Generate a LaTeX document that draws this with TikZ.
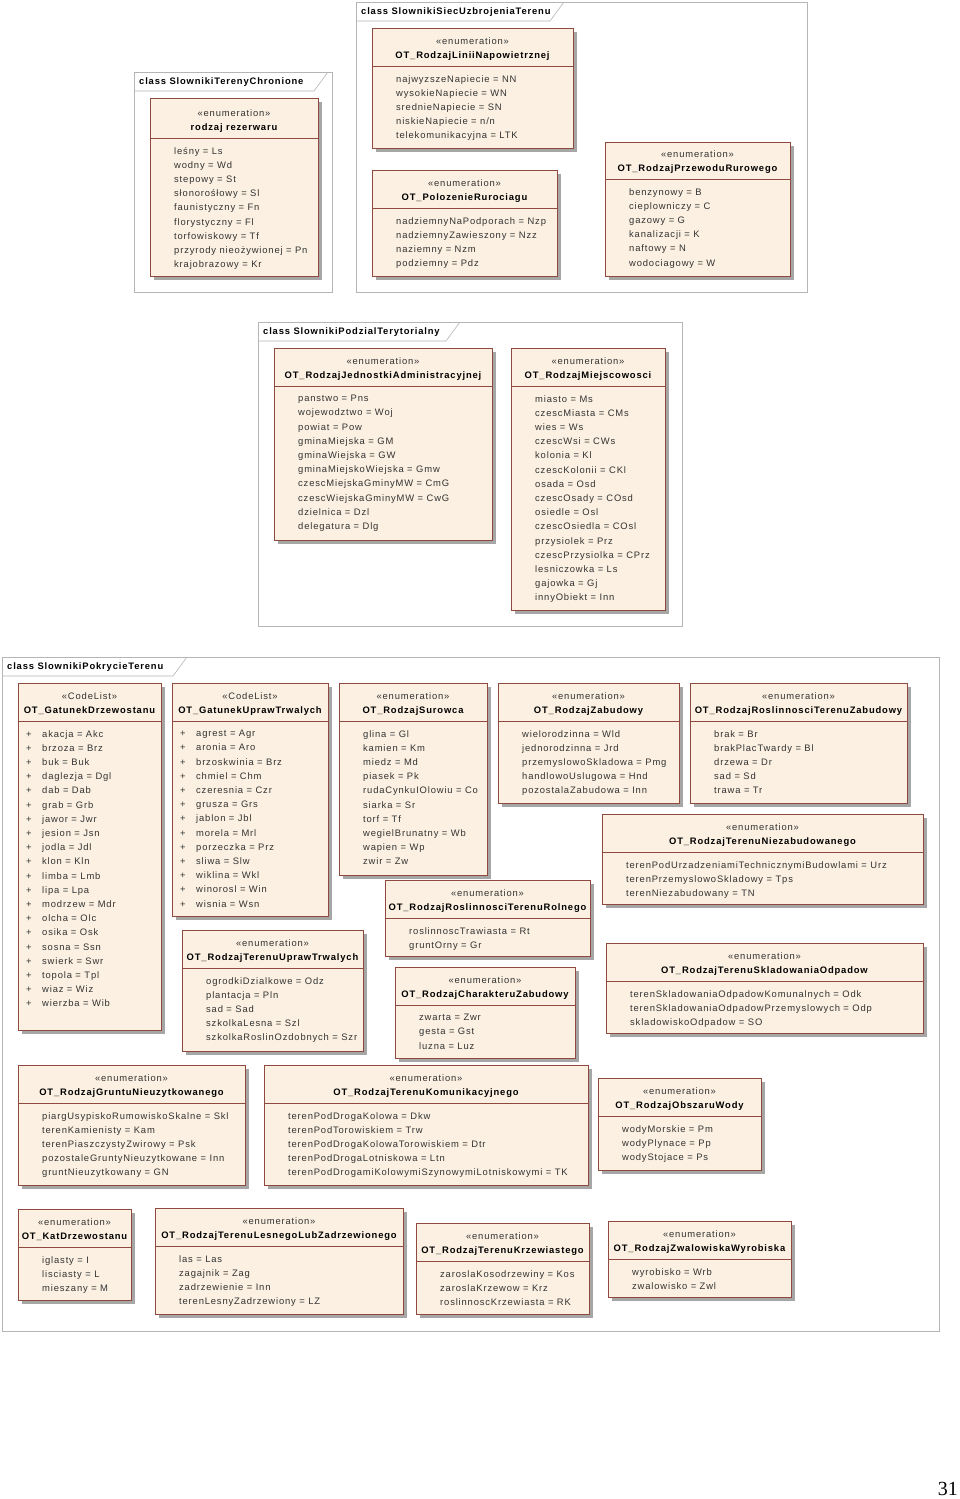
\documentclass[tikz,border=0pt]{standalone}
\usepackage{fontspec}
\setmainfont{Liberation Sans}
\newfontfamily\wide[LetterSpace=9]{Liberation Sans}
\newfontfamily\pagefont{Liberation Serif}
\definecolor{boxfill}{HTML}{FBF0E1}
\definecolor{boxline}{HTML}{8E4A3E}
\definecolor{txt}{HTML}{333333}
\definecolor{frame}{HTML}{B5B5B5}
\tikzset{
  boxshape/.style={draw=boxline,fill=boxfill,line width=0.8pt},
  shadowshape/.style={fill=black!35,draw=none},
  itemtxt/.style={anchor=north west,inner sep=0pt,align=left,text=txt,font=\wide\fontsize{9.4}{14.2}\selectfont},
  headtxt/.style={inner sep=0pt,text=txt,font=\wide\fontsize{9.4}{10}\selectfont},
  titletxt/.style={inner sep=0pt,text=black,font=\wide\fontsize{9.4}{10}\selectfont\bfseries},
  framebox/.style={draw=frame,line width=0.6pt},
  tablabel/.style={anchor=west,inner sep=0pt,font=\wide\fontsize{9.4}{10}\selectfont\bfseries}
}
% id, x1,y1,x2,y2, sep, stereotype, title, items
\newcommand\ebox[9]{%
  \fill[shadowshape] (#2+4,#3+4) rectangle (#4+4,#5+4);
  \node[boxshape,minimum width=#4pt-#2pt,minimum height=#5pt-#3pt,anchor=north west,inner sep=0pt] (#1) at (#2,#3) {};
  \draw[boxline,line width=0.6pt] (#2,#6) -- (#4,#6);
  \node[headtxt] (#1s) at ({(#2+#4)/2},#6-25) {«#7»};
  \node[titletxt] (#1t) at ({(#2+#4)/2},#6-10) {#8};
  \node[itemtxt] (#1i) at (#2+24,#6+9) {#9};
}
\newcommand\cbox[9]{%
  \fill[shadowshape] (#2+4,#3+4) rectangle (#4+4,#5+4);
  \node[boxshape,minimum width=#4pt-#2pt,minimum height=#5pt-#3pt,anchor=north west,inner sep=0pt] (#1) at (#2,#3) {};
  \draw[boxline,line width=0.6pt] (#2,#6) -- (#4,#6);
  \node[headtxt] (#1s) at ({(#2+#4)/2},#6-25) {«#7»};
  \node[titletxt] (#1t) at ({(#2+#4)/2},#6-10) {#8};
  \node[itemtxt] (#1i) at (#2+8,#6+9) {#9};
}
\newcommand\pl[1]{\makebox[16pt][l]{+}#1}
% id, x1,y1,x2,y2, tabx, label
\newcommand\pkg[7]{%
  \draw[framebox] (#2,#3) rectangle (#4,#5);
  \draw[framebox] (#2,#3+19) -- (#6,#3+19) -- (#6+14,#3);
  \node[tablabel] (#1) at (#2+5,#3+10) {#7};
}
\begin{document}
\begin{tikzpicture}[x=1pt,y=-1pt]
\useasboundingbox (0,0) rectangle (960,1499);
\fill[white] (0,0) rectangle (960,1499);

\pkg{p1}{134}{72}{332}{292}{314}{class SlownikiTerenyChronione}
\ebox{A}{150}{98}{318}{276}{138}{enumeration}{rodzaj rezerwaru}{leśny = Ls\\wodny = Wd\\stepowy = St\\słonorośłowy = Sl\\faunistyczny = Fn\\florystyczny = Fl\\torfowiskowy = Tf\\przyrody nieożywionej = Pn\\krajobrazowy = Kr}

\pkg{p2}{356}{2}{807}{292}{550}{class SlownikiSiecUzbrojeniaTerenu}
\ebox{B}{372}{28}{573}{148}{66}{enumeration}{OT\_RodzajLiniiNapowietrznej}{najwyzszeNapiecie = NN\\wysokieNapiecie = WN\\srednieNapiecie = SN\\niskieNapiecie = n/n\\telekomunikacyjna = LTK}
\ebox{C}{372}{170}{557}{276}{208}{enumeration}{OT\_PolozenieRurociagu}{nadziemnyNaPodporach = Nzp\\nadziemnyZawieszony = Nzz\\naziemny = Nzm\\podziemny = Pdz}
\ebox{D}{605}{142}{790}{276}{179}{enumeration}{OT\_RodzajPrzewoduRurowego}{benzynowy = B\\cieplowniczy = C\\gazowy = G\\kanalizacji = K\\naftowy = N\\wodociagowy = W}

\pkg{p3}{258}{322}{682}{626}{446}{class SlownikiPodzialTerytorialny}
\ebox{E}{274}{348}{492}{540}{386}{enumeration}{OT\_RodzajJednostkiAdministracyjnej}{panstwo = Pns\\wojewodztwo = Woj\\powiat = Pow\\gminaMiejska = GM\\gminaWiejska = GW\\gminaMiejskoWiejska = Gmw\\czescMiejskaGminyMW = CmG\\czescWiejskaGminyMW = CwG\\dzielnica = Dzl\\delegatura = Dlg}
\ebox{F}{511}{348}{665}{610}{386}{enumeration}{OT\_RodzajMiejscowosci}{miasto = Ms\\czescMiasta = CMs\\wies = Ws\\czescWsi = CWs\\kolonia = Kl\\czescKolonii = CKl\\osada = Osd\\czescOsady = COsd\\osiedle = Osl\\czescOsiedla = COsl\\przysiolek = Prz\\czescPrzysiolka = CPrz\\lesniczowka = Ls\\gajowka = Gj\\innyObiekt = Inn}

\pkg{p4}{2}{657}{939}{1331}{173}{class SlownikiPokrycieTerenu}
\cbox{G}{18}{683}{161}{1030}{721}{CodeList}{OT\_GatunekDrzewostanu}{\pl{akacja = Akc}\\\pl{brzoza = Brz}\\\pl{buk = Buk}\\\pl{daglezja = Dgl}\\\pl{dab = Dab}\\\pl{grab = Grb}\\\pl{jawor = Jwr}\\\pl{jesion = Jsn}\\\pl{jodla = Jdl}\\\pl{klon = Kln}\\\pl{limba = Lmb}\\\pl{lipa = Lpa}\\\pl{modrzew = Mdr}\\\pl{olcha = Olc}\\\pl{osika = Osk}\\\pl{sosna = Ssn}\\\pl{swierk = Swr}\\\pl{topola = Tpl}\\\pl{wiaz = Wiz}\\\pl{wierzba = Wib}}
\cbox{H}{172}{683}{328}{916}{721}{CodeList}{OT\_GatunekUprawTrwalych}{\pl{agrest = Agr}\\\pl{aronia = Aro}\\\pl{brzoskwinia = Brz}\\\pl{chmiel = Chm}\\\pl{czeresnia = Czr}\\\pl{grusza = Grs}\\\pl{jablon = Jbl}\\\pl{morela = Mrl}\\\pl{porzeczka = Prz}\\\pl{sliwa = Slw}\\\pl{wiklina = Wkl}\\\pl{winorosl = Win}\\\pl{wisnia = Wsn}}
\ebox{I}{339}{683}{487}{875}{721}{enumeration}{OT\_RodzajSurowca}{glina = Gl\\kamien = Km\\miedz = Md\\piasek = Pk\\rudaCynkuIOlowiu = Co\\siarka = Sr\\torf = Tf\\wegielBrunatny = Wb\\wapien = Wp\\zwir = Zw}
\ebox{J}{498}{683}{679}{803}{721}{enumeration}{OT\_RodzajZabudowy}{wielorodzinna = Wld\\jednorodzinna = Jrd\\przemyslowoSkladowa = Pmg\\handlowoUslugowa = Hnd\\pozostalaZabudowa = Inn}
\ebox{K}{690}{683}{907}{803}{721}{enumeration}{OT\_RodzajRoslinnosciTerenuZabudowy}{brak = Br\\brakPlacTwardy = Bl\\drzewa = Dr\\sad = Sd\\trawa = Tr}
\ebox{L}{602}{814}{923}{904}{852}{enumeration}{OT\_RodzajTerenuNiezabudowanego}{terenPodUrzadzeniamiTechnicznymiBudowlami = Urz\\terenPrzemyslowoSkladowy = Tps\\terenNiezabudowany = TN}
\ebox{M}{385}{880}{590}{956}{918}{enumeration}{OT\_RodzajRoslinnosciTerenuRolnego}{roslinnoscTrawiasta = Rt\\gruntOrny = Gr}
\ebox{N}{182}{930}{363}{1051}{968}{enumeration}{OT\_RodzajTerenuUprawTrwalych}{ogrodkiDzialkowe = Odz\\plantacja = Pln\\sad = Sad\\szkolkaLesna = Szl\\szkolkaRoslinOzdobnych = Szr}
\ebox{O}{395}{967}{575}{1058}{1005}{enumeration}{OT\_RodzajCharakteruZabudowy}{zwarta = Zwr\\gesta = Gst\\luzna = Luz}
\ebox{P}{606}{943}{923}{1033}{981}{enumeration}{OT\_RodzajTerenuSkladowaniaOdpadow}{terenSkladowaniaOdpadowKomunalnych = Odk\\terenSkladowaniaOdpadowPrzemyslowych = Odp\\skladowiskoOdpadow = SO}
\ebox{Q}{18}{1065}{245}{1185}{1103}{enumeration}{OT\_RodzajGruntuNieuzytkowanego}{piargUsypiskoRumowiskoSkalne = Skl\\terenKamienisty = Kam\\terenPiaszczystyZwirowy = Psk\\pozostaleGruntyNieuzytkowane = Inn\\gruntNieuzytkowany = GN}
\ebox{R}{264}{1065}{588}{1185}{1103}{enumeration}{OT\_RodzajTerenuKomunikacyjnego}{terenPodDrogaKolowa = Dkw\\terenPodTorowiskiem = Trw\\terenPodDrogaKolowaTorowiskiem = Dtr\\terenPodDrogaLotniskowa = Ltn\\terenPodDrogamiKolowymiSzynowymiLotniskowymi = TK}
\ebox{S}{598}{1078}{761}{1170}{1116}{enumeration}{OT\_RodzajObszaruWody}{wodyMorskie = Pm\\wodyPlynace = Pp\\wodyStojace = Ps}
\ebox{T}{18}{1209}{131}{1300}{1247}{enumeration}{OT\_KatDrzewostanu}{iglasty = I\\lisciasty = L\\mieszany = M}
\ebox{U}{155}{1208}{403}{1314}{1246}{enumeration}{OT\_RodzajTerenuLesnegoLubZadrzewionego}{las = Las\\zagajnik = Zag\\zadrzewienie = Inn\\terenLesnyZadrzewiony = LZ}
\ebox{V}{416}{1223}{589}{1314}{1261}{enumeration}{OT\_RodzajTerenuKrzewiastego}{zaroslaKosodrzewiny = Kos\\zaroslaKrzewow = Krz\\roslinnoscKrzewiasta = RK}
\ebox{W}{608}{1221}{791}{1297}{1259}{enumeration}{OT\_RodzajZwalowiskaWyrobiska}{wyrobisko = Wrb\\zwalowisko = Zwl}

\node[anchor=east,inner sep=0pt,font=\pagefont\fontsize{20}{22}\selectfont] (pg) at (958,1489) {31};
\end{tikzpicture}
\end{document}
